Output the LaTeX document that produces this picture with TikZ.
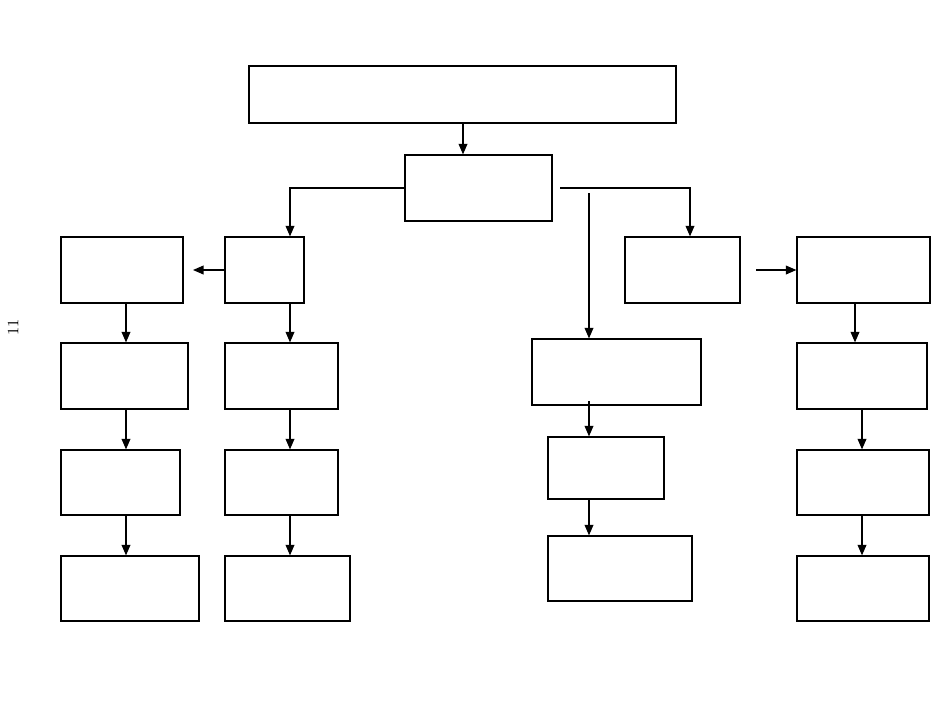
\documentclass[tikz,border=0pt]{standalone}
\usepackage{tikz}
\usetikzlibrary{arrows.meta}

\begin{document}
\begin{tikzpicture}[x=0.02cm,y=-0.02cm]
  \tikzstyle{cell} = [rectangle,inner sep=0pt,draw=black,line width=0.7pt]
  \tikzstyle{ref} =[->, >={Triangle[length=6pt,width=5pt]},line width=0.7pt]

  \useasboundingbox (0,0) rectangle (950,704);

  \node[rotate=90,font=\fontsize{9}{10}\selectfont,name=pnum] at (13,327.5) {11};

  \node[cell,minimum width=8.54cm,minimum height=1.14cm,name=top] at (462.5,94.5) {};
  \node[cell,minimum width=2.94cm,minimum height=1.32cm,name=mid] at (478.5,188) {};

  \node[cell,minimum width=2.44cm,minimum height=1.32cm,name=la1] at (122,270) {};
  \node[cell,minimum width=2.54cm,minimum height=1.32cm,name=la2] at (124.5,376) {};
  \node[cell,minimum width=2.38cm,minimum height=1.30cm,name=la3] at (120.5,482.5) {};
  \node[cell,minimum width=2.76cm,minimum height=1.30cm,name=la4] at (130,588.5) {};

  \node[cell,minimum width=1.58cm,minimum height=1.32cm,name=lb1] at (264.5,270) {};
  \node[cell,minimum width=2.26cm,minimum height=1.32cm,name=lb2] at (281.5,376) {};
  \node[cell,minimum width=2.26cm,minimum height=1.30cm,name=lb3] at (281.5,482.5) {};
  \node[cell,minimum width=2.50cm,minimum height=1.30cm,name=lb4] at (287.5,588.5) {};

  \node[cell,minimum width=3.38cm,minimum height=1.32cm,name=c1] at (616.5,372) {};
  \node[cell,minimum width=2.32cm,minimum height=1.24cm,name=c2] at (606,468) {};
  \node[cell,minimum width=2.88cm,minimum height=1.30cm,name=c3] at (620,568.5) {};

  \node[cell,minimum width=2.30cm,minimum height=1.32cm,name=r1] at (682.5,270) {};
  \node[cell,minimum width=2.66cm,minimum height=1.32cm,name=r2] at (863.5,270) {};
  \node[cell,minimum width=2.60cm,minimum height=1.32cm,name=r3] at (862,376) {};
  \node[cell,minimum width=2.64cm,minimum height=1.30cm,name=r4] at (863,482.5) {};
  \node[cell,minimum width=2.64cm,minimum height=1.30cm,name=r5] at (863,588.5) {};

  % columns and free ends of the arrows
  \coordinate (xt) at (463,0);
  \coordinate (xa) at (126,0);
  \coordinate (xb) at (290,0);
  \coordinate (xc) at (589,0);
  \coordinate (xu) at (690,0);
  \coordinate (xr) at (855,0);
  \coordinate (xs) at (862,0);
  \coordinate (cstart) at (589,193);
  \coordinate (mstart) at (560,188);
  \coordinate (rstart) at (756,270);
  \coordinate (laend) at (193,270);
  \coordinate (c1start) at (589,401);

  \draw[ref] (top.south -| xt) -- (mid.north -| xt);
  \draw[ref] (mid.west) -- (mid.west -| xb) -- (lb1.north -| xb);
  \draw[ref] (lb1.west) -- (laend);
  \draw[ref] (mstart) -- (mstart -| xu) -- (r1.north -| xu);
  \draw[ref] (cstart) -- (c1.north -| cstart);
  \draw[ref] (rstart) -- (r2.west);

  \draw[ref] (la1.south -| xa) -- (la2.north -| xa);
  \draw[ref] (la2.south -| xa) -- (la3.north -| xa);
  \draw[ref] (la3.south -| xa) -- (la4.north -| xa);

  \draw[ref] (lb1.south -| xb) -- (lb2.north -| xb);
  \draw[ref] (lb2.south -| xb) -- (lb3.north -| xb);
  \draw[ref] (lb3.south -| xb) -- (lb4.north -| xb);

  \draw[ref] (c1start) -- (c2.north -| xc);
  \draw[ref] (c2.south -| xc) -- (c3.north -| xc);

  \draw[ref] (r2.south -| xr) -- (r3.north -| xr);
  \draw[ref] (r3.south -| xs) -- (r4.north -| xs);
  \draw[ref] (r4.south -| xs) -- (r5.north -| xs);

\end{tikzpicture}
\end{document}
